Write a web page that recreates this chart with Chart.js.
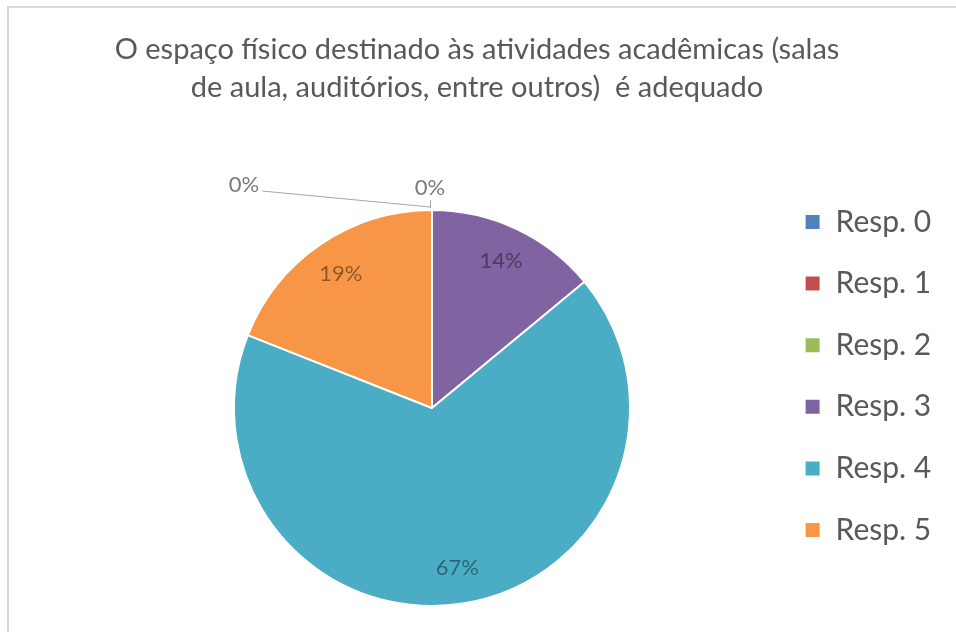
<!DOCTYPE html>
<html><head><meta charset="utf-8">
<script src="https://cdn.jsdelivr.net/npm/chart.js@4.4.0/dist/chart.umd.min.js"></script>
<style>
html,body{margin:0;padding:0;background:#fff;overflow:hidden;width:956px;height:632px;}
#frame{position:absolute;left:7px;top:6px;width:960px;height:640px;border-top:2px solid #d9d9d9;border-left:2px solid #d4d4d4;}
#c{position:absolute;left:0;top:0;}
</style></head><body>
<div id="frame"></div>
<canvas id="c" width="956" height="632"></canvas>
<script>
const titleLines = ['O espaço físico destinado às atividades acadêmicas (salas', 'de aula, auditórios, entre outros)  é adequado'];
const categories = ['Resp. 0', 'Resp. 1', 'Resp. 2', 'Resp. 3', 'Resp. 4', 'Resp. 5'];
const values = [0, 0, 0, 14, 67, 19];
const percentLabels = ['0%', '0%', '0%', '14%', '67%', '19%'];
const colors = ['#4F81BD', '#C0504D', '#9BBB59', '#8064A2', '#4BACC6', '#F79646'];

const FONT = 'Lato, "Open Sans", sans-serif';

const labelPlugin = {
  id: 'pctLabels',
  afterLayout(chart) {
    // let the legend draw past its (narrow) layout box without clipping
    const lg = chart.legend;
    if (lg) { lg.right = chart.width; lg.width = lg.right - lg.left; }
  },
  afterDatasetsDraw(chart) {
    const ctx = chart.ctx;
    const meta = chart.getDatasetMeta(0);
    ctx.save();
    ctx.font = '22px ' + FONT;
    ctx.textAlign = 'center';
    ctx.textBaseline = 'middle';
    meta.data.forEach((arc, i) => {
      const p = arc.getProps(['x', 'y', 'startAngle', 'endAngle', 'outerRadius'], true);
      const txt = percentLabels[i];
      if (values[i] > 0) {
        const mid = (p.startAngle + p.endAngle) / 2;
        const r = p.outerRadius * 0.82;
        ctx.fillStyle = 'rgba(0,0,0,0.42)';
        ctx.fillText(txt, p.x + Math.cos(mid) * r, p.y + Math.sin(mid) * r);
      } else {
        const ax = p.x + Math.cos(p.startAngle) * p.outerRadius;
        const ay = p.y + Math.sin(p.startAngle) * p.outerRadius;
        ctx.strokeStyle = '#a6a6a6';
        ctx.lineWidth = 1;
        ctx.fillStyle = '#7a7a7a';
        if (i === 0) {
          ctx.beginPath();
          ctx.moveTo(ax - 1.5, ay - 2);
          ctx.lineTo(ax - 1.5, ay - 10);
          ctx.stroke();
          ctx.fillText(txt, ax - 2, ay - 22);
        } else if (i === 1) {
          ctx.beginPath();
          ctx.moveTo(ax - 2, ay - 3);
          ctx.lineTo(ax - 170, ay - 19);
          ctx.stroke();
          ctx.fillText(txt, ax - 188, ay - 25);
        }
      }
    });
    ctx.restore();
  }
};

new Chart(document.getElementById('c'), {
  type: 'pie',
  data: {
    labels: categories,
    datasets: [{
      data: values,
      backgroundColor: colors,
      borderColor: '#ffffff',
      borderWidth: 2,
      hoverOffset: 0
    }]
  },
  options: {
    responsive: false,
    animation: false,
    layout: { padding: { left: 91, right: 93, top: 0, bottom: 25 } },
    plugins: {
      tooltip: { enabled: false },
      title: {
        display: true,
        text: titleLines,
        color: '#595959',
        font: { family: FONT, size: 29, weight: 'normal', lineHeight: '38px' },
        padding: { top: 31, bottom: 102 }
      },
      legend: {
        position: 'right',
        align: 'start',
        maxWidth: 90,
        title: { display: true, text: ' ', font: { size: 10, lineHeight: 1 }, padding: { top: 0, bottom: 165.4 } },
        labels: {
          boxWidth: 16,
          boxHeight: 16,
          padding: 31.6,
          color: '#595959',
          font: { family: FONT, size: 30 }
        }
      }
    }
  },
  plugins: [labelPlugin]
});
</script>
</body></html>
